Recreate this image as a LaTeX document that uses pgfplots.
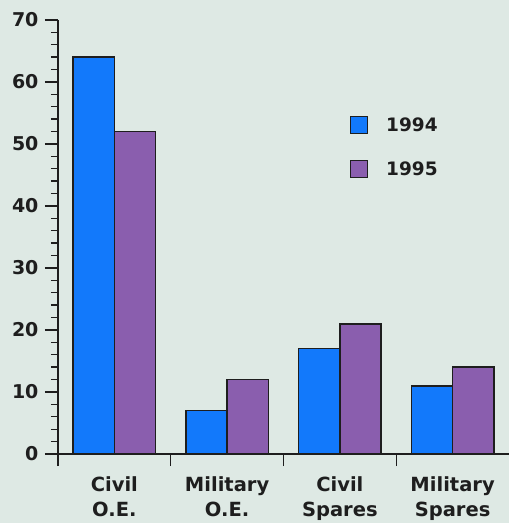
\documentclass[border=0pt]{standalone}
\usepackage{fontspec}
\setmainfont{DejaVu Sans}
\usepackage{pgfplots}
\pgfplotsset{compat=1.18}
\usetikzlibrary{backgrounds,calc}
\definecolor{bg}{HTML}{DEE9E4}
\definecolor{cblue}{HTML}{1279FB}
\definecolor{cpurple}{HTML}{8A5EAE}
\definecolor{txt}{HTML}{1E1E1E}
\begin{document}
\begin{tikzpicture}
\begin{axis}[name=ax, scale only axis, width=451pt, height=434pt,
  xmin=-0.5, xmax=3.5, ymin=0, ymax=70,
  axis x line*=bottom, axis y line*=left,
  axis line style={line width=1.5pt, -, txt},
  ytick={0,10,...,70}, minor y tick num=4,
  tick align=outside, major tick length=13pt, minor tick length=7pt,
  tick style={line width=1.4pt, txt},
  xtick={0,1,2,3},
  xticklabels={{Civil\\O.E.},{Military\\O.E.},{Civil\\Spares},{Military\\Spares}},
  xtick style={draw=none},
  extra x ticks={-0.5,0.5,1.5,2.5},
  extra x tick labels={},
  extra x tick style={xtick style={draw=txt}, major tick length=12pt},
  /pgf/number format/assume math mode=true,
  yticklabel style={font=\bfseries\fontsize{19}{20}\selectfont, text=txt, xshift=-3pt},
  xticklabel style={font=\bfseries\fontsize{19.5}{25}\selectfont, text=txt, align=center, yshift=-6pt},
  legend style={draw=none, fill=none, at={(0.64,0.785)}, anchor=north west,
    font=\bfseries\fontsize{18.5}{20}\selectfont, text=txt, row sep=25pt},
  legend cell align=left,
  legend image code/.code={\draw[#1, line width=1.3pt] (0pt,-8pt) rectangle (17pt,9pt);},
]
\addplot[ybar, bar width=0.365, bar shift=-0.1825, fill=cblue, draw=txt, line width=1.5pt]
  coordinates {(0,64) (1,7) (2,17) (3,11)};
\addplot[ybar, bar width=0.365, bar shift=0.1825, fill=cpurple, draw=txt, line width=1.5pt]
  coordinates {(0,52) (1,12) (2,21) (3,14)};
\legend{\hspace{16pt}1994,\hspace{16pt}1995}
\end{axis}
\begin{scope}[on background layer]
\fill[bg] ($(ax.south west)+(-58pt,-69pt)$) rectangle ($(ax.north east)+(0,20pt)$);
\end{scope}
\pgfresetboundingbox
\path ($(ax.south west)+(-58pt,-69pt)$) rectangle ($(ax.north east)+(0,20pt)$);
\end{tikzpicture}
\end{document}
